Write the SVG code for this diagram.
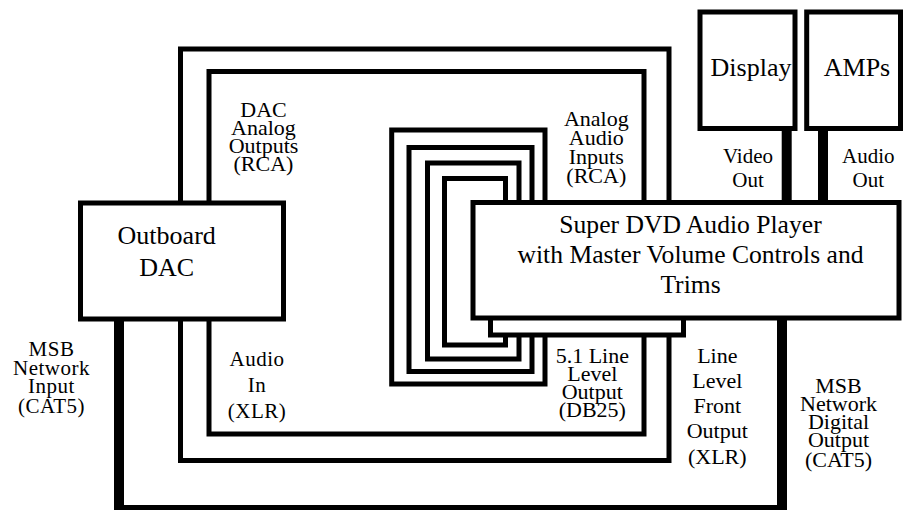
<svg xmlns="http://www.w3.org/2000/svg" width="910" height="510" viewBox="0 0 910 510" font-family="'Liberation Serif', 'DejaVu Serif', serif">
<style>
.ln{fill:none;stroke:#000;stroke-width:5;stroke-linejoin:miter;stroke-linecap:square}
.tk{fill:none;stroke:#000;stroke-width:10;stroke-linecap:butt}
.box{fill:#fff;stroke:#000;stroke-width:5}
text{font-family:'Liberation Serif','DejaVu Serif',serif;fill:#000;text-anchor:middle}
.big{font-size:26px}
.dvd{font-size:25.6px}
.sm{font-size:22px}
.s21{font-size:21px}
</style>
<rect width="910" height="510" fill="#fff"/>
<g id="connectors">
<path class="ln" d="M180.5,203 V49 H669 V202"/>
<path class="ln" d="M180.5,319 V460.5 H669 V335"/>
<path class="ln" d="M209,203 V71.5 H644 V202"/>
<path class="ln" d="M209,319 V434 H644 V335"/>
<path class="ln" d="M545,202 V130 H391.7 V384 H545 V335"/>
<path class="ln" d="M532,202 V147.5 H409 V371.5 H532 V335"/>
<path class="ln" d="M519,202 V163 H427.5 V359 H519 V335"/>
<path class="ln" d="M505.5,202 V178.5 H444.5 V345 H505.5 V335"/>
<line class="tk" x1="119" y1="319" x2="119" y2="510"/>
<line class="tk" x1="782" y1="318" x2="782" y2="510"/>
<line x1="114" y1="507.5" x2="787" y2="507.5" stroke="#000" stroke-width="5"/>
<line class="tk" x1="786.7" y1="128" x2="786.7" y2="203"/>
<line class="tk" x1="823" y1="128" x2="823" y2="203"/>
</g>
<g id="dac">
<rect class="box" x="80.5" y="203" width="203" height="116"/>
<text class="big" x="166.7" y="244">Outboard</text>
<text class="big" x="166.7" y="276">DAC</text>
</g>
<g id="dvd-sub">
<rect class="box" x="490.5" y="290" width="193" height="45"/>
</g>
<g id="dvd">
<rect class="box" x="473" y="202.5" width="426" height="115.5"/>
<text class="dvd" x="690.5" y="232.7">Super DVD Audio Player</text>
<text class="dvd" x="690.5" y="262.7">with Master Volume Controls and</text>
<text class="dvd" x="690.5" y="293">Trims</text>
</g>
<g id="display">
<rect class="box" x="700" y="12" width="95" height="116.5"/>
<text class="big" x="751" y="76">Display</text>
</g>
<g id="amps">
<rect class="box" x="806.7" y="12" width="93.8" height="116.5"/>
<text class="big" x="857" y="76">AMPs</text>
</g>
<g id="labels">
<text class="sm" x="263.5" y="116.7">DAC</text>
<text class="sm" x="263.5" y="134.7">Analog</text>
<text class="sm" x="263.5" y="152.7">Outputs</text>
<text class="sm" x="263.5" y="171">(RCA)</text>
<text class="sm" x="596.3" y="126">Analog</text>
<text class="sm" x="596.3" y="145">Audio</text>
<text class="sm" x="596.3" y="164">Inputs</text>
<text class="sm" x="596.3" y="183.3">(RCA)</text>
<text class="s21" x="748" y="162.7">Video</text>
<text class="s21" x="748" y="186.7">Out</text>
<text class="s21" x="868.3" y="162.7">Audio</text>
<text class="s21" x="868.3" y="186.7">Out</text>
<text class="s21" x="51.5" y="355.7" letter-spacing="0.5">MSB</text>
<text class="s21" x="51.5" y="375" letter-spacing="0.5">Network</text>
<text class="s21" x="51.5" y="393.3" letter-spacing="0.5">Input</text>
<text class="s21" x="51.5" y="412.7" letter-spacing="0.5">(CAT5)</text>
<text class="s21" x="257" y="366" letter-spacing="0.5">Audio</text>
<text class="s21" x="257" y="391.7" letter-spacing="0.5">In</text>
<text class="s21" x="257" y="417.7" letter-spacing="0.5">(XLR)</text>
<text class="sm" x="592.3" y="362.7">5.1 Line</text>
<text class="sm" x="592.3" y="381">Level</text>
<text class="sm" x="592.3" y="398.7">Output</text>
<text class="sm" x="592.3" y="417">(DB25)</text>
<text class="sm" x="717.3" y="362.7">Line</text>
<text class="sm" x="717.3" y="388.3">Level</text>
<text class="sm" x="717.3" y="413.3">Front</text>
<text class="sm" x="717.3" y="438.3">Output</text>
<text class="sm" x="717.3" y="464">(XLR)</text>
<text class="sm" x="838.5" y="392.7">MSB</text>
<text class="sm" x="838.5" y="410.7">Network</text>
<text class="sm" x="838.5" y="428.7">Digital</text>
<text class="sm" x="838.5" y="447">Output</text>
<text class="sm" x="838.5" y="466.7">(CAT5)</text>
</g>
</svg>
